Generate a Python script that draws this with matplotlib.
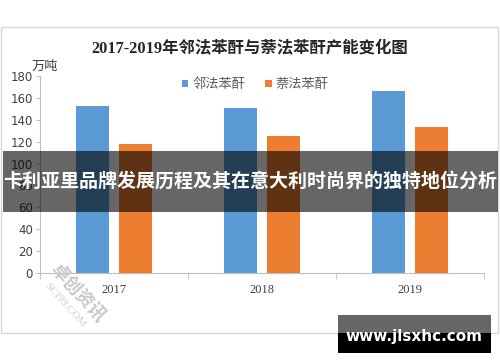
import matplotlib.pyplot as plt
from matplotlib.patches import Rectangle

plt.rcParams['font.family'] = ['Liberation Serif', 'Noto Sans CJK SC', 'DejaVu Sans']

# data
years = ['2017', '2018', '2019']
linfa = [153, 151, 166]   # 邻法苯酐, 万吨
naifa = [118, 125, 133]   # 萘法苯酐, 万吨
series_names = ['邻法苯酐', '萘法苯酐']
colors = ['#5b9bd5', '#ed7d31']
title = '2017-2019年邻法苯酐与萘法苯酐产能变化图'
banner = '卡利亚里品牌发展历程及其在意大利时尚界的独特地位分析'
site = 'www.jlsxhc.com'

W, H = 500, 362


def px(x, y, w, h):
    # pixel box (from top-left) -> figure fraction
    return [x / W, 1 - (y + h) / H, w / W, h / H]


fig = plt.figure(figsize=(W / 100, H / 100), dpi=100)
fig.patch.set_facecolor('white')

# chart frame
fig.patches.append(Rectangle((1 / W, 1 - 333 / H), 497 / W, 306 / H, transform=fig.transFigure,
                             fill=False, edgecolor='#d9d9d9', linewidth=1))

ax = fig.add_axes(px(40, 76, 444, 197))
x = range(len(years))
bw = 0.223
off = 0.142
ax.bar([i - off for i in x], linfa, bw, color=colors[0], label=series_names[0])
ax.bar([i + off for i in x], naifa, bw, color=colors[1], label=series_names[1])

ax.set_xlim(-0.5, 2.5)
ax.set_ylim(0, 180)
ax.set_yticks(range(0, 181, 20))
ax.set_xticks(list(x))
ax.set_xticklabels(years, fontsize=9, color='#404040')
ax.set_xticks([-0.5, 0.5, 1.5, 2.5], minor=True)
ax.tick_params(axis='x', which='major', length=0, pad=8)
ax.tick_params(axis='x', which='minor', length=4, color='#bfbfbf', direction='out')
ax.tick_params(axis='y', length=3, color='#bfbfbf', labelsize=9, labelcolor='#404040', pad=2)
for lab in ax.get_yticklabels():
    lab.set_family(['DejaVu Sans'])
    lab.set_fontsize(8.5)
for s in ['top', 'right']:
    ax.spines[s].set_visible(False)
for s in ['left', 'bottom']:
    ax.spines[s].set_color('#bfbfbf')

leg = ax.legend(loc='upper center', bbox_to_anchor=(0.485, 1.05), ncol=2, frameon=False,
                handlelength=0.5, handleheight=0.5, handletextpad=0.3, columnspacing=1.5,
                prop={'family': ['Noto Sans CJK SC'], 'size': 9.5})
for t in leg.get_texts():
    t.set_color('#595959')

fig.text(250 / W, 1 - 49 / H, title, ha='center', va='center', fontsize=11.8,
         fontweight='bold', color='#262626')
fig.text(45 / W, 1 - 66 / H, '万吨', ha='center', va='center', fontsize=9.5,
         family=['Noto Sans CJK SC'], color='#404040')

# faint watermark lower left
fig.text(78 / W, 1 - 292 / H, '卓创资讯', rotation=-48, ha='center', va='center', fontsize=13,
         family=['Noto Sans CJK SC'], color='#c8c8c8', fontweight='bold')
fig.text(65 / W, 1 - 305 / H, 'SCI99.COM', rotation=-48, ha='center', va='center', fontsize=8,
         color='#d0d0d0')

# banner overlay
fig.patches.append(Rectangle((3 / W, 1 - 212 / H), 495 / W, 61 / H, transform=fig.transFigure,
                             facecolor='black', alpha=0.6, edgecolor='none', zorder=5))
fig.text(250 / W, 1 - 181 / H, banner, ha='center', va='center', fontsize=13.7,
         fontweight='bold', color='white', family=['Noto Sans CJK SC'], zorder=6)

# site box
fig.patches.append(Rectangle((338 / W, 1 - 333 / H), 153 / W, 18 / H, transform=fig.transFigure,
                             facecolor='#666666', edgecolor='none', zorder=5))
fig.patches.append(Rectangle((338 / W, 1 - 353 / H), 153 / W, 20 / H, transform=fig.transFigure,
                             facecolor='black', edgecolor='none', zorder=5))
fig.text(414 / W, 1 - 336 / H, site, ha='center', va='center', fontsize=11,
         fontweight='bold', color='white', family=['DejaVu Sans'], zorder=6)

fig.savefig('out.png', dpi=100)
